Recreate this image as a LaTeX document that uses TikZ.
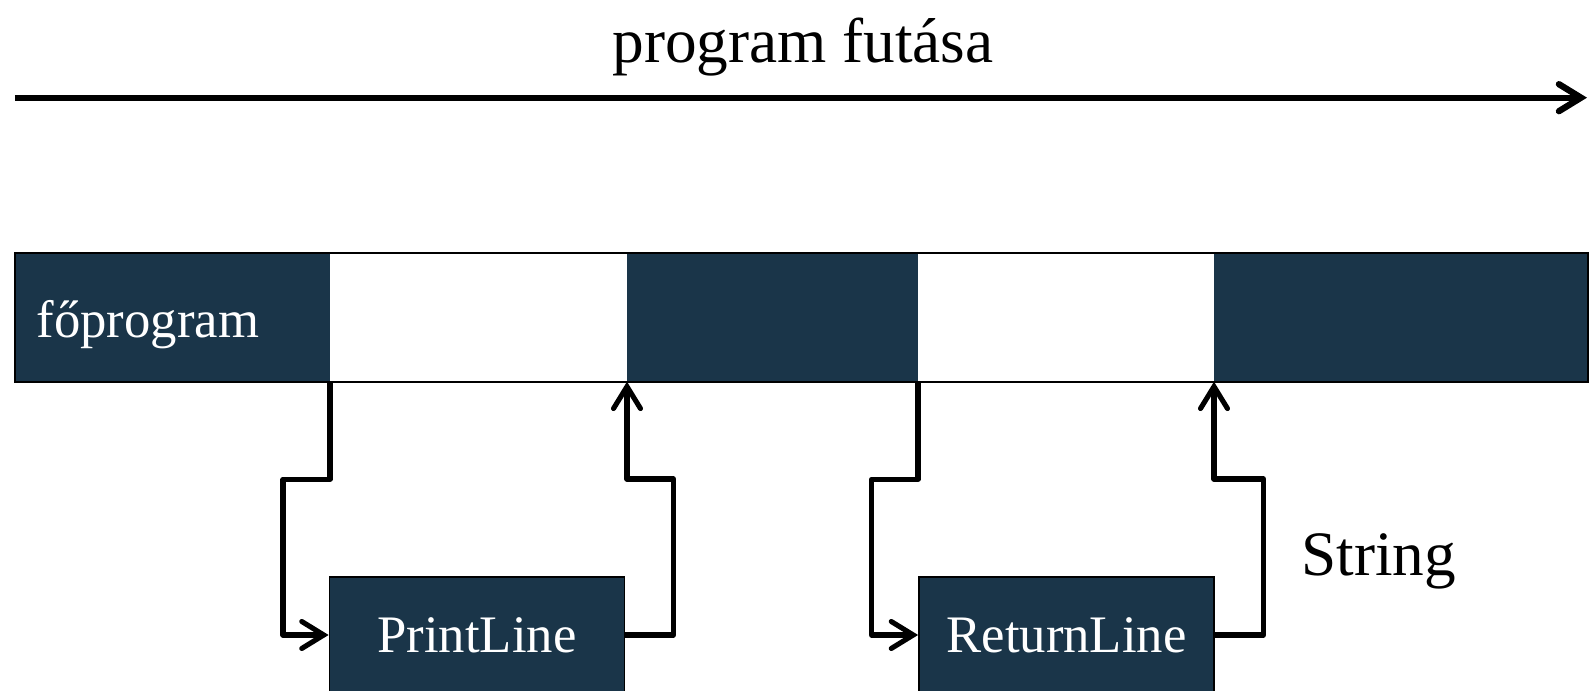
\documentclass[tikz,border=0pt]{standalone}
\usepackage{fontspec}
\setmainfont{Liberation Serif}
\usetikzlibrary{arrows.meta, positioning}
\definecolor{barblue}{HTML}{1A3549}

\begin{document}
\begin{tikzpicture}[node distance=0pt,
		every node/.style={align=center},
		busy/.style={rectangle, fill=barblue, minimum height=1.29cm, inner sep=0pt, outer sep=0pt},
		idle/.style={rectangle, fill=white, minimum height=1.29cm, inner sep=0pt, outer sep=0pt},
		func/.style={rectangle, draw=black, line width=0.5pt, fill=barblue, text=white,
			minimum width=2.95cm, minimum height=1.16cm, inner sep=0pt, font=\fontsize{15}{18}\selectfont},
		flow/.style={line width=1.45pt, line join=round, -{Straight Barb[length=0.22cm, width=0.27cm, line cap=round]}},
		bigtext/.style={font=\fontsize{18}{22}\selectfont}]
				\useasboundingbox (0,0) rectangle (15.95,-6.91);
				
				% Time axis
				\coordinate (tstart) at (0.15,-0.977);
				\coordinate (tend) at (15.87,-0.977);
				\node (title) [bigtext, anchor=base] at (8.03,-0.63) {program futása};
				\draw[flow, line width=1.8pt] (tstart) -- (tend);
				
				% Bar of the main program
				\node (seg1) [busy, minimum width=3.15cm, anchor=north west] at (0.15,-2.527) {};
				\node (gap1) [idle, minimum width=2.97cm, right=of seg1] {};
				\node (seg2) [busy, minimum width=2.91cm, right=of gap1] {};
				\node (gap2) [idle, minimum width=2.96cm, right=of seg2] {};
				\node (seg3) [busy, minimum width=3.74cm, right=of gap2] {};
				\draw[line width=0.5pt] (seg1.north west) rectangle (seg3.south east);
				\node (mainlbl) [anchor=base west, text=white, font=\fontsize{15}{18}\selectfont, inner sep=0pt]
					at (0.36,-3.373) {főprogram};
				
				% Called functions
				\node (print) [func] at (4.77,-6.35) {PrintLine};
				\node (ret) [func] at (10.665,-6.35) {ReturnLine};
				\node (strlbl) [bigtext, anchor=base west, inner sep=0pt] at (13.007,-5.76) {String};
				
				% Arrows
				\draw[flow] (gap1.south west) -- ++(0,-0.975) -- ++(-0.47,0) |- (print.west);
				\draw[flow] (print.east) -- ++(0.48,0) -- ++(0,1.56) -| (gap1.south east);
				\draw[flow] (gap2.south west) -- ++(0,-0.975) -- ++(-0.465,0) |- (ret.west);
				\draw[flow] (ret.east) -- ++(0.487,0) -- ++(0,1.56) -| (gap2.south east);
			\end{tikzpicture}
\end{document}
